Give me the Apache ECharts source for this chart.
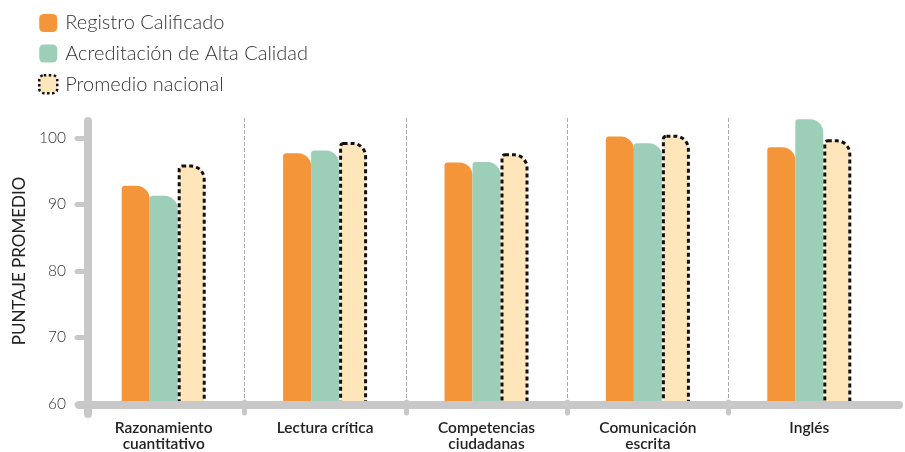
<!DOCTYPE html>
<html>
<head>
<meta charset="utf-8">
<script src="https://cdn.jsdelivr.net/npm/echarts@6/dist/echarts.min.js"></script>
<style>
html,body{margin:0;padding:0;background:#fff;}
#c{width:905px;height:452px;}
</style>
</head>
<body>
<div id="c"></div>
<script>
var categories = ['Razonamiento\ncuantitativo', 'Lectura crítica', 'Competencias\nciudadanas', 'Comunicación\nescrita', 'Inglés'];
var seriesNames = ['Registro Calificado', 'Acreditación de Alta Calidad', 'Promedio nacional'];
var registro = [92.8, 97.7, 96.3, 100.2, 98.6];
var acreditacion = [91.3, 98.1, 96.4, 99.2, 102.8];
var promedio = [96.0, 99.4, 97.7, 100.5, 99.8];
var yTicks = [60, 70, 80, 90, 100];

var FONT = 'Lato';
var AXIS_GRAY = '#c8c8c8';
var chart = echarts.init(document.getElementById('c'), null, {renderer: 'canvas'});

var barRadius = [3, 13, 0, 0];

chart.setOption({
  animation: false,
  textStyle: {fontFamily: FONT},
  legend: {
    orient: 'vertical', left: 33, top: 8,
    itemWidth: 18, itemHeight: 18, itemGap: 10.5,
    icon: 'roundRect',
    textStyle: {fontSize: 20, fontWeight: 300, color: '#333', fontFamily: FONT, padding: [0, 0, 0, 3]},
    data: [
      {name: seriesNames[0]},
      {name: seriesNames[1]},
      {name: seriesNames[2], itemStyle: {color: '#FEE5BA', borderColor: '#111', borderWidth: 2.5, borderType: [2.5, 2.5]}}
    ]
  },
  grid: [
    {left: 83, right: 15, top: 118, bottom: 47},
    {left: 83, right: 15, top: 121, bottom: 38},
    {left: 79, right: 6, top: 118, bottom: 47},
    {left: 83, right: 15, top: 402, bottom: 39}
  ],
  xAxis: [
    {
      gridIndex: 0, type: 'category', data: categories,
      axisLine: {show: false},
      axisTick: {show: false},
      axisLabel: {margin: 16, fontSize: 15.5, fontWeight: 600, color: '#222', lineHeight: 16, fontFamily: FONT},
      splitLine: {show: true, showMinLine: false, showMaxLine: false, lineStyle: {type: 'dashed', color: '#aaa', width: 1}}
    },
    {gridIndex: 1, type: 'value', show: false},
    {
      gridIndex: 2, type: 'value', z: 3,
      axisLine: {show: true, lineStyle: {color: AXIS_GRAY, width: 8, cap: 'round'}},
      axisTick: {show: false}, axisLabel: {show: false}, splitLine: {show: false}
    },
    {
      gridIndex: 3, type: 'category', data: categories, z: 3,
      axisLine: {show: false}, axisTick: {show: false}, axisLabel: {show: false},
      splitLine: {show: true, showMinLine: false, showMaxLine: false, lineStyle: {color: AXIS_GRAY, width: 5, cap: 'round'}}
    }
  ],
  yAxis: [
    {
      gridIndex: 0, type: 'value', min: 60, max: 103, offset: -5,
      name: 'PUNTAJE PROMEDIO', nameLocation: 'middle', nameGap: 59, nameRotate: 90,
      nameTextStyle: {fontSize: 17, color: '#222', fontFamily: FONT},
      axisLine: {show: false},
      axisTick: {show: true, customValues: yTicks, length: 11, lineStyle: {color: AXIS_GRAY, width: 5, cap: 'round'}},
      axisLabel: {customValues: yTicks, margin: 22, fontSize: 15.5, fontWeight: 300, color: '#333', fontFamily: FONT},
      splitLine: {show: false}
    },
    {
      gridIndex: 1, type: 'value', offset: -5, z: 3,
      axisLine: {show: true, lineStyle: {color: AXIS_GRAY, width: 8, cap: 'round'}},
      axisTick: {show: false}, axisLabel: {show: false}, splitLine: {show: false}
    },
    {gridIndex: 2, type: 'value', show: false},
    {gridIndex: 3, type: 'value', show: false}
  ],
  series: [
    {
      name: seriesNames[0], type: 'bar', xAxisIndex: 0, yAxisIndex: 0,
      data: registro, barWidth: 28, barGap: '0%',
      itemStyle: {color: '#F39538', borderRadius: barRadius}
    },
    {
      name: seriesNames[1], type: 'bar', xAxisIndex: 0, yAxisIndex: 0,
      data: acreditacion, barWidth: 28, barGap: '0%',
      itemStyle: {color: '#9DCFB8', borderRadius: barRadius}
    },
    {
      name: seriesNames[2], type: 'bar', xAxisIndex: 0, yAxisIndex: 0,
      data: promedio, barWidth: 28, barGap: '0%',
      itemStyle: {color: '#FEE5BA', borderColor: '#111', borderWidth: 3, borderType: [4, 3], borderRadius: barRadius}
    }
  ]
});
</script>
</body>
</html>
